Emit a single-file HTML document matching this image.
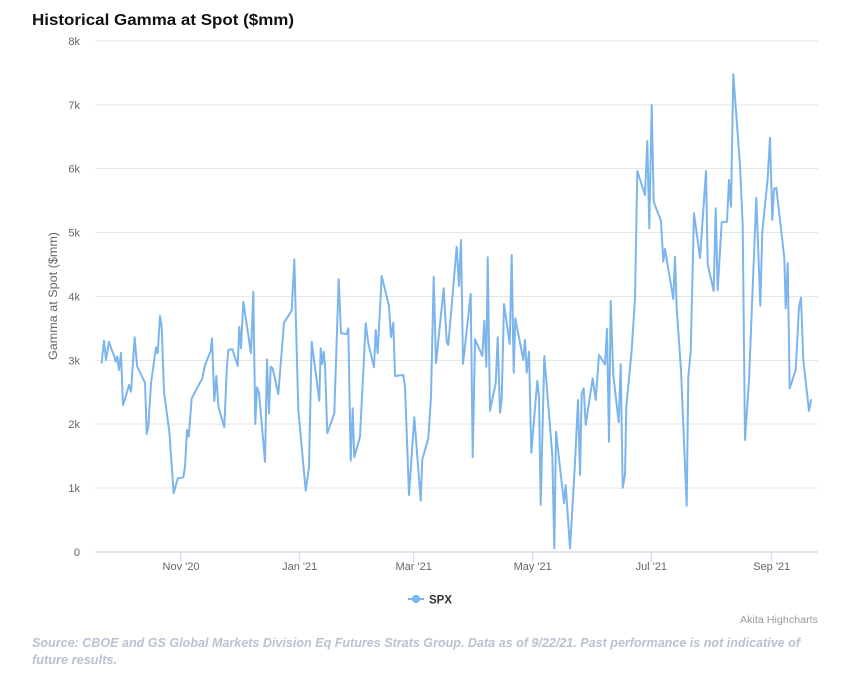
<!DOCTYPE html>
<html>
<head>
<meta charset="utf-8">
<style>
html,body{margin:0;padding:0;background:#fff;}
svg{display:block;}
text{font-family:"Liberation Sans",sans-serif;}
</style>
</head>
<body>
<svg width="844" height="673" viewBox="0 0 844 673" xmlns="http://www.w3.org/2000/svg">
<rect width="844" height="673" fill="#fff"/>
<text x="32" y="25" font-size="16" font-weight="bold" fill="#111" textLength="262" lengthAdjust="spacingAndGlyphs">Historical Gamma at Spot ($mm)</text>

<g stroke="#e6e6e6" stroke-width="1">
<line x1="95" y1="41" x2="818" y2="41"/>
<line x1="95" y1="105" x2="818" y2="105"/>
<line x1="95" y1="168.5" x2="818" y2="168.5"/>
<line x1="95" y1="232.5" x2="818" y2="232.5"/>
<line x1="95" y1="296.5" x2="818" y2="296.5"/>
<line x1="95" y1="360.5" x2="818" y2="360.5"/>
<line x1="95" y1="424" x2="818" y2="424"/>
<line x1="95" y1="488" x2="818" y2="488"/>
</g>
<line x1="95" y1="552" x2="818" y2="552" stroke="#ccd6eb" stroke-width="1.2"/>
<g stroke="#ccd6eb" stroke-width="1">
<line x1="180.7" y1="552" x2="180.7" y2="562"/>
<line x1="299.7" y1="552" x2="299.7" y2="562"/>
<line x1="413.7" y1="552" x2="413.7" y2="562"/>
<line x1="532.7" y1="552" x2="532.7" y2="562"/>
<line x1="651.3" y1="552" x2="651.3" y2="562"/>
<line x1="771.7" y1="552" x2="771.7" y2="562"/>
</g>

<g font-size="11" fill="#666" text-anchor="end">
<text x="80" y="45">8k</text>
<text x="80" y="109">7k</text>
<text x="80" y="172.5">6k</text>
<text x="80" y="236.5">5k</text>
<text x="80" y="300.5">4k</text>
<text x="80" y="364.5">3k</text>
<text x="80" y="428">2k</text>
<text x="80" y="492">1k</text>
<text x="80" y="556">0</text>
</g>
<g font-size="11" fill="#666" text-anchor="middle">
<text x="181" y="570">Nov '20</text>
<text x="299.7" y="570">Jan '21</text>
<text x="413.7" y="570">Mar '21</text>
<text x="532.7" y="570">May '21</text>
<text x="651.3" y="570">Jul '21</text>
<text x="771.7" y="570">Sep '21</text>
</g>
<text transform="translate(57,296) rotate(-90)" font-size="12" fill="#666" text-anchor="middle" textLength="128" lengthAdjust="spacingAndGlyphs">Gamma at Spot ($mm)</text>

<polyline fill="none" stroke="#7cb5ec" stroke-width="2" stroke-linejoin="round" stroke-linecap="round" points="
101.7,362.7 104,340.7 106,360 109,341.7 111.7,350 114.3,356 115.7,361.7 117.3,356.7 119,370 121,352.7 123,405 125.7,396.7 129,385 131,391.7 134.7,337.3 137,366 145,382.7 146.7,434 148.3,426.7 151,383.3 156,347.3 157.7,353.3 160,316 161.7,326.7 164,391.7 169.3,431.7 173.7,493.3 177.7,478.3 183.3,477.3 185,466.7 187,430 188.7,436.7 191.7,398.3 202.3,378.3 205,365 210.7,350.7 212,338.3 214.3,401 216.3,376 218.5,407 224.3,427.3 226.7,370 228.3,350 232.3,349 237.7,366 239.3,326.7 241,348.3 243.3,301.7 251,353.3 253.3,291.7 255.3,424 257,387.3 259,392.7 265,461.7 267,359.3 269,413.3 270.7,366.7 272.7,368.3 278.3,394 284,322.7 291.7,310.7 294.3,259.3 298.3,410 305.7,490.7 309,467.3 311.7,341.7 319.3,400.7 320.7,348.3 322.3,364 323.7,351.7 325,365 327.3,433.3 334.3,413.3 338.7,279 341,333.3 346.7,334 348.3,328.3 350.7,460.7 352.7,408.3 354.3,457.3 360,436.7 365.7,323.3 368.3,343.3 374,367.3 375.7,330 377.7,353.3 381.7,276 389,306 391,337.3 393.3,322.7 395,376 403.3,375 405,386.7 409,495 414.3,417.3 420.7,500.7 422.3,459.3 428.3,438.3 431,396.7 433.7,276.7 436,363.3 443.7,288.3 446.7,341.7 448.3,345 456.7,246.7 459,286 461,240 463,364 470.7,294 472.7,457.3 475,339.3 482.3,356 484.3,320.7 486.3,366.7 487.7,257.3 490,410.7 495.7,383.3 497.7,337.3 500,412.7 501.7,399.3 504,304 509.7,344 511.7,255 513.7,372.7 515.3,318.3 523.3,360 525,340 526.7,372.7 529,351.7 531.3,452.7 537.3,380.7 539,396.7 540.7,505 544.3,356 552.3,455 554.3,548.3 556,431.7 564,503.3 565.7,485 570,548.3 575,463.3 578,400 580,475 581.7,393.3 583.7,388.3 585.7,425 592.7,378.3 595.7,400 599,355 605,364.3 607,329 609,441.7 610.7,301 613.3,375 618.7,422.3 620.7,364.3 622.7,487.7 625,475 626.3,406.7 631.7,350 635,298.3 637.3,171 645,195 647.3,141 649.3,228.3 651.7,105 653.7,201.7 661,221 663.3,261.7 665,249 673.3,299 675,256.7 676.7,308.3 681,370 686.7,505.7 688.3,376.7 690.7,351.7 694,213.3 700,258 706,171 707.7,264.3 713.7,291 715.7,208.3 717.7,290 721.7,222.3 727,221.7 729,180 731,206.7 733.3,74.3 740,165 742.7,225 745,440 749,380 756.3,197.7 760.3,305.7 762.3,231.7 767.7,178.3 770,137.7 772.3,220 774,189 776.3,187.7 784.3,257.7 785.7,308.3 787.7,263.3 789.7,388.3 795.7,370 799,306.7 801,297.7 803.3,360 809,411 811,400"/>

<line x1="408" y1="599" x2="424" y2="599" stroke="#7cb5ec" stroke-width="2"/>
<circle cx="416" cy="599" r="4" fill="#7cb5ec"/>
<text x="429" y="603.5" font-size="12" font-weight="bold" fill="#333" textLength="23" lengthAdjust="spacingAndGlyphs">SPX</text>

<text x="818" y="623" font-size="10" fill="#999" text-anchor="end" textLength="78" lengthAdjust="spacingAndGlyphs">Akita Highcharts</text>

<g font-size="13" font-weight="bold" font-style="italic" fill="#b8c2d0">
<text x="32" y="647" textLength="768" lengthAdjust="spacingAndGlyphs">Source: CBOE and GS Global Markets Division Eq Futures Strats Group. Data as of 9/22/21. Past performance is not indicative of</text>
<text x="32" y="664" textLength="85" lengthAdjust="spacingAndGlyphs">future results.</text>
</g>
</svg>
</body>
</html>
